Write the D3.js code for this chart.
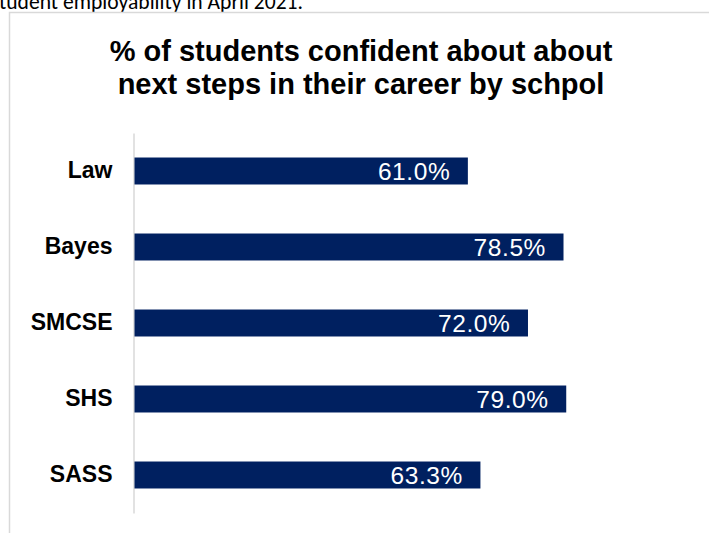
<!DOCTYPE html>
<html>
<head>
<meta charset="utf-8">
<script src="https://cdn.jsdelivr.net/npm/d3@7"></script>
<style>
  html, body { margin: 0; padding: 0; background: #ffffff; }
  svg { display: block; }
</style>
</head>
<body>
<svg id="chart" width="709" height="533"></svg>
<script>
// Schools and the share of students confident about their next career steps (%)
const schools = ["Law", "Bayes", "SMCSE", "SHS", "SASS"];
const confidence = [61.0, 78.5, 72.0, 79.0, 63.3];
const titleLines = [
  "% of students confident about about",
  "next steps in their career by schpol"
];
const precedingText = "student employability in April 2021.";

const svg = d3.select("#chart");
const W = 709, H = 533;

// Sentence from the surrounding document, running off the left edge
svg.append("text")
  .attr("x", 303)
  .attr("y", 8.5)
  .attr("text-anchor", "end")
  .style("font-family", "Carlito, Lato, 'Open Sans', sans-serif")
  .style("font-size", "21.6px")
  .style("fill", "#000000")
  .text(precedingText);

// Chart frame
svg.append("rect")
  .attr("x", 9.5)
  .attr("y", 12.5)
  .attr("width", W + 20)
  .attr("height", H + 20)
  .attr("fill", "#ffffff")
  .attr("stroke", "#d9d9d9")
  .attr("stroke-width", 1.5);

// Title
svg.append("text")
  .attr("x", 361)
  .attr("y", 61)
  .attr("text-anchor", "middle")
  .style("font-family", "'Liberation Sans', Arial, sans-serif")
  .style("font-weight", "bold")
  .style("font-size", "29px")
  .style("fill", "#000000")
  .selectAll("tspan")
  .data(titleLines)
  .join("tspan")
  .attr("x", 361)
  .attr("dy", (d, i) => i === 0 ? 0 : 33)
  .text(d => d);

// Scales
const x = d3.scaleLinear().domain([0, 100]).range([134.5, 681]);
const y = d3.scaleBand()
  .domain(schools)
  .range([133, 513])
  .paddingInner(0.645)
  .paddingOuter(0.3225);

const data = schools.map((s, i) => ({ school: s, value: confidence[i] }));

// Category axis
const axis = svg.append("g")
  .attr("transform", "translate(133.5,0)")
  .call(d3.axisLeft(y).tickSize(0).tickPadding(21));
axis.select(".domain")
  .attr("stroke", "#d9d9d9")
  .attr("stroke-width", 1.5);
axis.selectAll("text")
  .style("font-family", "'Liberation Sans', Arial, sans-serif")
  .style("font-weight", "bold")
  .style("font-size", "23px")
  .style("fill", "#000000");

// Bars
svg.append("g")
  .selectAll("rect")
  .data(data)
  .join("rect")
  .attr("x", x(0))
  .attr("y", d => y(d.school))
  .attr("width", d => x(d.value) - x(0))
  .attr("height", y.bandwidth())
  .attr("fill", "#002060");

// Value labels inside the bar ends
svg.append("g")
  .selectAll("text")
  .data(data)
  .join("text")
  .attr("x", d => x(d.value) - 17.5)
  .attr("y", d => y(d.school) + y.bandwidth() / 2)
  .attr("dy", "0.37em")
  .attr("text-anchor", "end")
  .style("font-family", "'Liberation Sans', Arial, sans-serif")
  .style("font-size", "24.5px")
  .style("letter-spacing", "0.6px")
  .style("fill", "#ffffff")
  .text(d => d.value.toFixed(1) + "%");
</script>
</body>
</html>
